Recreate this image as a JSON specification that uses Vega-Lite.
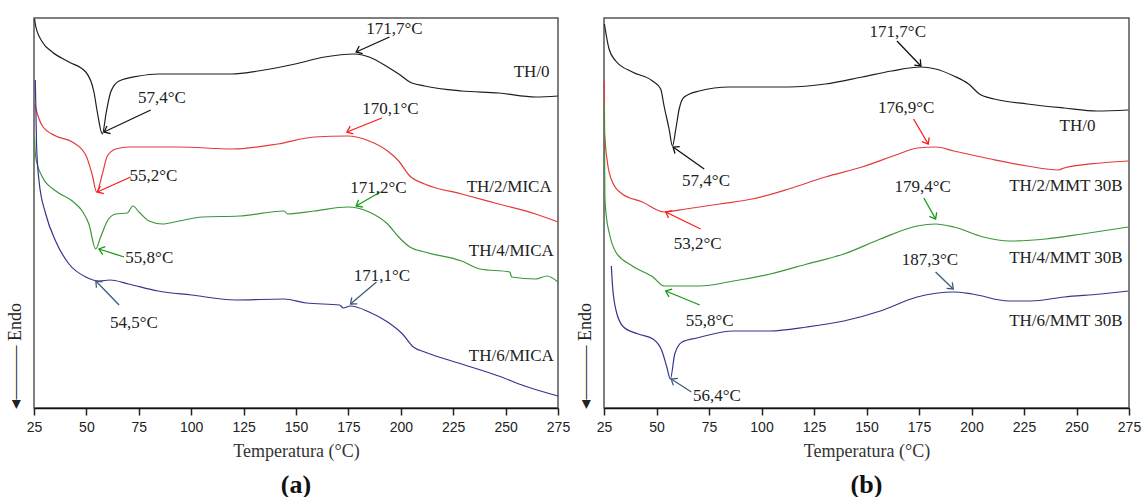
{
  "$schema": "https://vega.github.io/schema/vega-lite/v6.json",
  "background": "white",
  "padding": {"left": 5, "top": 15, "right": 10, "bottom": 5},
  "config": {
    "view": {"stroke": "#555", "strokeWidth": 1.5},
    "text": {"font": "Liberation Serif", "fontSize": 17, "color": "#222"}
  },
  "datasets": {
    "curves": [
      {"p":"a","s":"TH/0","T":25.3,"h":389},{"p":"a","s":"TH/0","T":25.8,"h":382},{"p":"a","s":"TH/0","T":29,"h":366},{"p":"a","s":"TH/0","T":33.7,"h":356},{"p":"a","s":"TH/0","T":41.7,"h":346},{"p":"a","s":"TH/0","T":49.7,"h":336},{"p":"a","s":"TH/0","T":53.6,"h":316},{"p":"a","s":"TH/0","T":55.2,"h":296},{"p":"a","s":"TH/0","T":57.6,"h":274},{"p":"a","s":"TH/0","T":59.5,"h":296},{"p":"a","s":"TH/0","T":61.6,"h":316},{"p":"a","s":"TH/0","T":65.6,"h":327},{"p":"a","s":"TH/0","T":75.1,"h":332},{"p":"a","s":"TH/0","T":84.6,"h":334},{"p":"a","s":"TH/0","T":119.5,"h":334},{"p":"a","s":"TH/0","T":131.9,"h":337},{"p":"a","s":"TH/0","T":149.6,"h":344},{"p":"a","s":"TH/0","T":163.7,"h":351},{"p":"a","s":"TH/0","T":177.8,"h":354},{"p":"a","s":"TH/0","T":184.9,"h":351},{"p":"a","s":"TH/0","T":193.7,"h":341},{"p":"a","s":"TH/0","T":199,"h":334},{"p":"a","s":"TH/0","T":204.3,"h":326},{"p":"a","s":"TH/0","T":211.4,"h":322},{"p":"a","s":"TH/0","T":229,"h":317},{"p":"a","s":"TH/0","T":246.7,"h":315},{"p":"a","s":"TH/0","T":264.4,"h":311},{"p":"a","s":"TH/0","T":275,"h":312},

      {"p":"a","s":"TH/2/MICA","T":25.3,"h":304},{"p":"a","s":"TH/2/MICA","T":25.8,"h":300},{"p":"a","s":"TH/2/MICA","T":29,"h":282},{"p":"a","s":"TH/2/MICA","T":35.4,"h":272},{"p":"a","s":"TH/2/MICA","T":43.3,"h":266},{"p":"a","s":"TH/2/MICA","T":49.7,"h":253},{"p":"a","s":"TH/2/MICA","T":52.8,"h":233},{"p":"a","s":"TH/2/MICA","T":54.9,"h":216},{"p":"a","s":"TH/2/MICA","T":57.6,"h":234},{"p":"a","s":"TH/2/MICA","T":60,"h":252},{"p":"a","s":"TH/2/MICA","T":64,"h":259},{"p":"a","s":"TH/2/MICA","T":70.3,"h":261},{"p":"a","s":"TH/2/MICA","T":94.2,"h":261},{"p":"a","s":"TH/2/MICA","T":119.5,"h":259},{"p":"a","s":"TH/2/MICA","T":141.3,"h":264},{"p":"a","s":"TH/2/MICA","T":158.7,"h":271},{"p":"a","s":"TH/2/MICA","T":174.6,"h":272},{"p":"a","s":"TH/2/MICA","T":184.9,"h":267},{"p":"a","s":"TH/2/MICA","T":193.7,"h":257},{"p":"a","s":"TH/2/MICA","T":199,"h":247},{"p":"a","s":"TH/2/MICA","T":204.3,"h":232},{"p":"a","s":"TH/2/MICA","T":211.4,"h":224},{"p":"a","s":"TH/2/MICA","T":229,"h":214},{"p":"a","s":"TH/2/MICA","T":246.7,"h":204},{"p":"a","s":"TH/2/MICA","T":264.4,"h":194},{"p":"a","s":"TH/2/MICA","T":275,"h":186},

      {"p":"a","s":"TH/4/MICA","T":25.2,"h":271},{"p":"a","s":"TH/4/MICA","T":25.8,"h":251},{"p":"a","s":"TH/4/MICA","T":29,"h":231},{"p":"a","s":"TH/4/MICA","T":35.4,"h":217},{"p":"a","s":"TH/4/MICA","T":43.3,"h":207},{"p":"a","s":"TH/4/MICA","T":48,"h":197},{"p":"a","s":"TH/4/MICA","T":51.2,"h":184},{"p":"a","s":"TH/4/MICA","T":54.4,"h":159},{"p":"a","s":"TH/4/MICA","T":56.8,"h":171},{"p":"a","s":"TH/4/MICA","T":60,"h":187},{"p":"a","s":"TH/4/MICA","T":64,"h":194},{"p":"a","s":"TH/4/MICA","T":69.5,"h":195},{"p":"a","s":"TH/4/MICA","T":72.2,"h":202},{"p":"a","s":"TH/4/MICA","T":75.1,"h":196},{"p":"a","s":"TH/4/MICA","T":79.9,"h":187},{"p":"a","s":"TH/4/MICA","T":86.2,"h":184},{"p":"a","s":"TH/4/MICA","T":94.2,"h":187},{"p":"a","s":"TH/4/MICA","T":105.4,"h":191},{"p":"a","s":"TH/4/MICA","T":123,"h":192},{"p":"a","s":"TH/4/MICA","T":144.3,"h":197},{"p":"a","s":"TH/4/MICA","T":146,"h":194},{"p":"a","s":"TH/4/MICA","T":158.7,"h":197},{"p":"a","s":"TH/4/MICA","T":174.6,"h":201},{"p":"a","s":"TH/4/MICA","T":184.9,"h":196},{"p":"a","s":"TH/4/MICA","T":193.7,"h":184},{"p":"a","s":"TH/4/MICA","T":199,"h":171},{"p":"a","s":"TH/4/MICA","T":204.3,"h":161},{"p":"a","s":"TH/4/MICA","T":211.4,"h":156},{"p":"a","s":"TH/4/MICA","T":229,"h":147},{"p":"a","s":"TH/4/MICA","T":237.8,"h":139},{"p":"a","s":"TH/4/MICA","T":252,"h":136},{"p":"a","s":"TH/4/MICA","T":252.9,"h":131},{"p":"a","s":"TH/4/MICA","T":264.4,"h":129},{"p":"a","s":"TH/4/MICA","T":269.7,"h":132},{"p":"a","s":"TH/4/MICA","T":275,"h":126},

      {"p":"a","s":"TH/6/MICA","T":25.6,"h":328},{"p":"a","s":"TH/6/MICA","T":25.9,"h":300},{"p":"a","s":"TH/6/MICA","T":26.2,"h":264},{"p":"a","s":"TH/6/MICA","T":27.4,"h":227},{"p":"a","s":"TH/6/MICA","T":30.6,"h":194},{"p":"a","s":"TH/6/MICA","T":35.3,"h":167},{"p":"a","s":"TH/6/MICA","T":41.7,"h":144},{"p":"a","s":"TH/6/MICA","T":49.7,"h":131},{"p":"a","s":"TH/6/MICA","T":56,"h":127},{"p":"a","s":"TH/6/MICA","T":61.2,"h":128},{"p":"a","s":"TH/6/MICA","T":70.1,"h":124},{"p":"a","s":"TH/6/MICA","T":84.2,"h":117},{"p":"a","s":"TH/6/MICA","T":100.1,"h":113},{"p":"a","s":"TH/6/MICA","T":121.3,"h":108},{"p":"a","s":"TH/6/MICA","T":144.3,"h":109},{"p":"a","s":"TH/6/MICA","T":154.9,"h":105},{"p":"a","s":"TH/6/MICA","T":170.8,"h":103},{"p":"a","s":"TH/6/MICA","T":172.5,"h":100},{"p":"a","s":"TH/6/MICA","T":176,"h":102},{"p":"a","s":"TH/6/MICA","T":184.9,"h":96},{"p":"a","s":"TH/6/MICA","T":193.7,"h":86},{"p":"a","s":"TH/6/MICA","T":200.8,"h":74},{"p":"a","s":"TH/6/MICA","T":206,"h":61},{"p":"a","s":"TH/6/MICA","T":211.4,"h":56},{"p":"a","s":"TH/6/MICA","T":229,"h":44},{"p":"a","s":"TH/6/MICA","T":246.7,"h":32},{"p":"a","s":"TH/6/MICA","T":259.1,"h":22},{"p":"a","s":"TH/6/MICA","T":275,"h":12},

      {"p":"b","s":"TH/0","T":25.2,"h":384},{"p":"b","s":"TH/0","T":27.4,"h":359},{"p":"b","s":"TH/0","T":30.6,"h":347},{"p":"b","s":"TH/0","T":38.5,"h":336},{"p":"b","s":"TH/0","T":48.1,"h":327},{"p":"b","s":"TH/0","T":52,"h":319},{"p":"b","s":"TH/0","T":53.6,"h":302},{"p":"b","s":"TH/0","T":56,"h":279},{"p":"b","s":"TH/0","T":57.6,"h":262},{"p":"b","s":"TH/0","T":59.2,"h":279},{"p":"b","s":"TH/0","T":60.8,"h":299},{"p":"b","s":"TH/0","T":63.2,"h":311},{"p":"b","s":"TH/0","T":70.3,"h":317},{"p":"b","s":"TH/0","T":84.8,"h":321},{"p":"b","s":"TH/0","T":113,"h":321},{"p":"b","s":"TH/0","T":130.4,"h":324},{"p":"b","s":"TH/0","T":147.9,"h":331},{"p":"b","s":"TH/0","T":161.9,"h":337},{"p":"b","s":"TH/0","T":175.9,"h":341},{"p":"b","s":"TH/0","T":182.9,"h":339},{"p":"b","s":"TH/0","T":191.6,"h":332},{"p":"b","s":"TH/0","T":198.6,"h":324},{"p":"b","s":"TH/0","T":203.8,"h":314},{"p":"b","s":"TH/0","T":210.8,"h":309},{"p":"b","s":"TH/0","T":226.6,"h":304},{"p":"b","s":"TH/0","T":244.1,"h":300},{"p":"b","s":"TH/0","T":259.8,"h":297},{"p":"b","s":"TH/0","T":274.7,"h":298},

      {"p":"b","s":"TH/2/MMT 30B","T":25.1,"h":327},{"p":"b","s":"TH/2/MMT 30B","T":25.3,"h":276},{"p":"b","s":"TH/2/MMT 30B","T":26.6,"h":246},{"p":"b","s":"TH/2/MMT 30B","T":29,"h":226},{"p":"b","s":"TH/2/MMT 30B","T":33.7,"h":214},{"p":"b","s":"TH/2/MMT 30B","T":43.3,"h":206},{"p":"b","s":"TH/2/MMT 30B","T":53.6,"h":196},{"p":"b","s":"TH/2/MMT 30B","T":64,"h":199},{"p":"b","s":"TH/2/MMT 30B","T":80,"h":204},{"p":"b","s":"TH/2/MMT 30B","T":95.5,"h":209},{"p":"b","s":"TH/2/MMT 30B","T":112.9,"h":219},{"p":"b","s":"TH/2/MMT 30B","T":130.4,"h":231},{"p":"b","s":"TH/2/MMT 30B","T":147.9,"h":241},{"p":"b","s":"TH/2/MMT 30B","T":165.4,"h":254},{"p":"b","s":"TH/2/MMT 30B","T":174.1,"h":260},{"p":"b","s":"TH/2/MMT 30B","T":182.9,"h":261},{"p":"b","s":"TH/2/MMT 30B","T":191.6,"h":257},{"p":"b","s":"TH/2/MMT 30B","T":209.1,"h":249},{"p":"b","s":"TH/2/MMT 30B","T":226.6,"h":242},{"p":"b","s":"TH/2/MMT 30B","T":241.4,"h":238},{"p":"b","s":"TH/2/MMT 30B","T":244.1,"h":240},{"p":"b","s":"TH/2/MMT 30B","T":261.5,"h":245},{"p":"b","s":"TH/2/MMT 30B","T":274.7,"h":247},

      {"p":"b","s":"TH/4/MMT 30B","T":25.1,"h":304},{"p":"b","s":"TH/4/MMT 30B","T":25.4,"h":212},{"p":"b","s":"TH/4/MMT 30B","T":26.2,"h":190},{"p":"b","s":"TH/4/MMT 30B","T":27.4,"h":176},{"p":"b","s":"TH/4/MMT 30B","T":30.6,"h":156},{"p":"b","s":"TH/4/MMT 30B","T":38.5,"h":142},{"p":"b","s":"TH/4/MMT 30B","T":48.3,"h":131},{"p":"b","s":"TH/4/MMT 30B","T":53.6,"h":122},{"p":"b","s":"TH/4/MMT 30B","T":70.3,"h":122},{"p":"b","s":"TH/4/MMT 30B","T":86.7,"h":127},{"p":"b","s":"TH/4/MMT 30B","T":104.2,"h":134},{"p":"b","s":"TH/4/MMT 30B","T":121.7,"h":144},{"p":"b","s":"TH/4/MMT 30B","T":139.2,"h":154},{"p":"b","s":"TH/4/MMT 30B","T":156.6,"h":169},{"p":"b","s":"TH/4/MMT 30B","T":174.1,"h":182},{"p":"b","s":"TH/4/MMT 30B","T":182.9,"h":184},{"p":"b","s":"TH/4/MMT 30B","T":191.6,"h":181},{"p":"b","s":"TH/4/MMT 30B","T":205.6,"h":171},{"p":"b","s":"TH/4/MMT 30B","T":217.8,"h":167},{"p":"b","s":"TH/4/MMT 30B","T":235.3,"h":169},{"p":"b","s":"TH/4/MMT 30B","T":252.8,"h":174},{"p":"b","s":"TH/4/MMT 30B","T":274.7,"h":181},

      {"p":"b","s":"TH/6/MMT 30B","T":28.5,"h":142},{"p":"b","s":"TH/6/MMT 30B","T":29,"h":124},{"p":"b","s":"TH/6/MMT 30B","T":30.8,"h":97},{"p":"b","s":"TH/6/MMT 30B","T":34.3,"h":81},{"p":"b","s":"TH/6/MMT 30B","T":41.3,"h":74},{"p":"b","s":"TH/6/MMT 30B","T":48.3,"h":69},{"p":"b","s":"TH/6/MMT 30B","T":52.6,"h":57},{"p":"b","s":"TH/6/MMT 30B","T":54.9,"h":41},{"p":"b","s":"TH/6/MMT 30B","T":56.6,"h":29},{"p":"b","s":"TH/6/MMT 30B","T":58.7,"h":54},{"p":"b","s":"TH/6/MMT 30B","T":62.2,"h":66},{"p":"b","s":"TH/6/MMT 30B","T":69.2,"h":70},{"p":"b","s":"TH/6/MMT 30B","T":86.7,"h":77},{"p":"b","s":"TH/6/MMT 30B","T":104.2,"h":77},{"p":"b","s":"TH/6/MMT 30B","T":121.7,"h":81},{"p":"b","s":"TH/6/MMT 30B","T":139.2,"h":87},{"p":"b","s":"TH/6/MMT 30B","T":156.6,"h":97},{"p":"b","s":"TH/6/MMT 30B","T":174.1,"h":111},{"p":"b","s":"TH/6/MMT 30B","T":191.6,"h":116},{"p":"b","s":"TH/6/MMT 30B","T":200.3,"h":114},{"p":"b","s":"TH/6/MMT 30B","T":217.8,"h":107},{"p":"b","s":"TH/6/MMT 30B","T":228.3,"h":107},{"p":"b","s":"TH/6/MMT 30B","T":244.1,"h":111},{"p":"b","s":"TH/6/MMT 30B","T":261.5,"h":114},{"p":"b","s":"TH/6/MMT 30B","T":274.7,"h":117}
    ],
    "labels": [
      {"p":"a","k":"t","T":197,"h":379,"t":"171,7°C"},
      {"p":"a","k":"t","T":86,"h":310,"t":"57,4°C"},
      {"p":"a","k":"t","T":195,"h":299,"t":"170,1°C"},
      {"p":"a","k":"t","T":82,"h":232,"t":"55,2°C"},
      {"p":"a","k":"t","T":189.3,"h":220,"t":"171,2°C"},
      {"p":"a","k":"t","T":80,"h":150,"t":"55,8°C"},
      {"p":"a","k":"t","T":191,"h":132,"t":"171,1°C"},
      {"p":"a","k":"t","T":72.7,"h":85,"t":"54,5°C"},
      {"p":"a","k":"n","T":271,"h":336,"t":"TH/0"},
      {"p":"a","k":"n","T":272,"h":221,"t":"TH/2/MICA"},
      {"p":"a","k":"n","T":273,"h":157,"t":"TH/4/MICA"},
      {"p":"a","k":"n","T":273,"h":52,"t":"TH/6/MICA"},
      {"p":"b","k":"t","T":164.9,"h":376,"t":"171,7°C"},
      {"p":"b","k":"t","T":73.6,"h":227,"t":"57,4°C"},
      {"p":"b","k":"t","T":168.9,"h":300,"t":"176,9°C"},
      {"p":"b","k":"t","T":69.6,"h":164,"t":"53,2°C"},
      {"p":"b","k":"t","T":176.7,"h":221,"t":"179,4°C"},
      {"p":"b","k":"t","T":75.3,"h":87,"t":"55,8°C"},
      {"p":"b","k":"t","T":180.2,"h":148,"t":"187,3°C"},
      {"p":"b","k":"t","T":78.8,"h":12,"t":"56,4°C"},
      {"p":"b","k":"n","T":259,"h":282,"t":"TH/0"},
      {"p":"b","k":"n","T":272,"h":222,"t":"TH/2/MMT 30B"},
      {"p":"b","k":"n","T":272,"h":150,"t":"TH/4/MMT 30B"},
      {"p":"b","k":"n","T":272,"h":87,"t":"TH/6/MMT 30B"}
    ],
    "arrows": [
      {"p":"a","c":"k","x0":194.6,"h0":371,"x1":178.7,"h1":356},
      {"p":"a","c":"k","x0":80.7,"h0":298,"x1":58.4,"h1":276},
      {"p":"a","c":"r","x0":191,"h0":290,"x1":174.3,"h1":276},
      {"p":"a","c":"r","x0":71.1,"h0":231,"x1":55.2,"h1":216},
      {"p":"a","c":"g","x0":190.2,"h0":216,"x1":178.7,"h1":202},
      {"p":"a","c":"g","x0":68,"h0":151,"x1":56,"h1":159},
      {"p":"a","c":"b","x0":188.4,"h0":126,"x1":176,"h1":104},
      {"p":"a","c":"b","x0":65.6,"h0":103,"x1":54.5,"h1":127},
      {"p":"b","c":"k","x0":164.5,"h0":367,"x1":175.9,"h1":342},
      {"p":"b","c":"k","x0":72.7,"h0":239,"x1":57.9,"h1":261},
      {"p":"b","c":"r","x0":172.4,"h0":289,"x1":179.4,"h1":264},
      {"p":"b","c":"r","x0":71,"h0":179,"x1":54.4,"h1":196},
      {"p":"b","c":"g","x0":177.3,"h0":210,"x1":182.9,"h1":189},
      {"p":"b","c":"g","x0":70.6,"h0":103,"x1":54.4,"h1":117},
      {"p":"b","c":"b","x0":182.9,"h0":136,"x1":191.3,"h1":119},
      {"p":"b","c":"b","x0":66.6,"h0":16,"x1":57,"h1":29}
    ]
  },
  "hconcat": [
    {
      "width": 524,
      "height": 390,
      "title": {"text": "(a)", "orient": "bottom", "font": "Liberation Serif", "fontSize": 26, "fontWeight": "bold", "color": "#111", "offset": 12},
      "resolve": {"scale": {"color": "independent"}},
      "layer": [
        {
          "data": {"name": "curves"},
          "transform": [{"filter": "datum.p == 'a'"}],
          "mark": {"type": "line", "strokeWidth": 1.2, "interpolate": "monotone"},
          "encoding": {
            "x": {"field": "T", "type": "quantitative", "scale": {"domain": [25, 275], "nice": false, "zero": false},
              "axis": {"values": [25,37.5,50,62.5,75,87.5,100,112.5,125,137.5,150,162.5,175,187.5,200,212.5,225,237.5,250,262.5,275],
                "labelExpr": "datum.value % 25 === 0 ? datum.label : ''",
                "tickSize": {"condition": {"test": "datum.value % 25 === 0", "value": 7}, "value": 5},
                "grid": false, "labelFlush": false, "labelOverlap": false, "labelFont": "Liberation Sans", "labelFontSize": 14, "labelColor": "#222", "labelPadding": 5,
                "tickColor": "#222", "tickWidth": 1.5, "domainColor": "#111", "domainWidth": 1.5,
                "title": "Temperatura (°C)", "titleFont": "Liberation Serif", "titleFontSize": 18, "titleFontWeight": "normal", "titleColor": "#333", "titlePadding": 8}},
            "y": {"field": "h", "type": "quantitative", "scale": {"domain": [0, 390], "nice": false, "zero": false},
              "axis": {"title": "◂――― Endo", "titleAnchor": "start", "domain": false, "ticks": false, "labels": false, "grid": false,
                "titleFont": "Liberation Serif", "titleFontSize": 18, "titleFontWeight": "normal", "titleColor": "#222", "titlePadding": 10}},
            "color": {"field": "s", "type": "nominal", "legend": null,
              "scale": {"domain": ["TH/0","TH/2/MICA","TH/4/MICA","TH/6/MICA"], "range": ["#1e1e1e","#e33b3b","#3b963b","#35358f"]}}
          }
        },
        {
          "data": {"name": "arrows"},
          "transform": [{"filter": "datum.p == 'a'"}],
          "mark": {"type": "rule", "strokeWidth": 1.3},
          "encoding": {
            "x": {"field": "x0", "type": "quantitative"},
            "y": {"field": "h0", "type": "quantitative"},
            "x2": {"field": "x1"},
            "y2": {"field": "h1"},
            "color": {"field": "c", "type": "nominal", "legend": null,
              "scale": {"domain": ["k","r","g","b"], "range": ["#111111","#ff1a1a","#139a13","#3e5b7c"]}}
          }
        },
        {
          "data": {"name": "arrows"},
          "transform": [{"filter": "datum.p == 'a'"},
            {"calculate": "atan2(-(datum.h1 - datum.h0), (datum.x1 - datum.x0) * 2.096) * 180 / PI", "as": "ang"}],
          "mark": {"type": "point", "shape": "M-1,-0.8L0,0L-1,0.8", "filled": false, "strokeWidth": 1.3, "size": 110, "opacity": 1},
          "encoding": {
            "x": {"field": "x1", "type": "quantitative"},
            "y": {"field": "h1", "type": "quantitative"},
            "angle": {"field": "ang", "type": "quantitative", "scale": null},
            "color": {"field": "c", "type": "nominal", "legend": null,
              "scale": {"domain": ["k","r","g","b"], "range": ["#111111","#ff1a1a","#139a13","#3e5b7c"]}}
          }
        },
        {
          "data": {"name": "labels"},
          "transform": [{"filter": "datum.p == 'a' && datum.k == 't'"}],
          "mark": {"type": "text", "align": "center", "baseline": "middle"},
          "encoding": {
            "x": {"field": "T", "type": "quantitative"},
            "y": {"field": "h", "type": "quantitative"},
            "text": {"field": "t"}
          }
        },
        {
          "data": {"name": "labels"},
          "transform": [{"filter": "datum.p == 'a' && datum.k == 'n'"}],
          "mark": {"type": "text", "align": "right", "baseline": "middle"},
          "encoding": {
            "x": {"field": "T", "type": "quantitative"},
            "y": {"field": "h", "type": "quantitative"},
            "text": {"field": "t"}
          }
        }
      ]
    },
    {
      "width": 525,
      "height": 390,
      "title": {"text": "(b)", "orient": "bottom", "font": "Liberation Serif", "fontSize": 26, "fontWeight": "bold", "color": "#111", "offset": 12},
      "resolve": {"scale": {"color": "independent"}},
      "layer": [
        {
          "data": {"name": "curves"},
          "transform": [{"filter": "datum.p == 'b'"}],
          "mark": {"type": "line", "strokeWidth": 1.2, "interpolate": "monotone"},
          "encoding": {
            "x": {"field": "T", "type": "quantitative", "scale": {"domain": [25, 275], "nice": false, "zero": false},
              "axis": {"values": [25,37.5,50,62.5,75,87.5,100,112.5,125,137.5,150,162.5,175,187.5,200,212.5,225,237.5,250,262.5,275],
                "labelExpr": "datum.value % 25 === 0 ? datum.label : ''",
                "tickSize": {"condition": {"test": "datum.value % 25 === 0", "value": 7}, "value": 5},
                "grid": false, "labelFlush": false, "labelOverlap": false, "labelFont": "Liberation Sans", "labelFontSize": 14, "labelColor": "#222", "labelPadding": 5,
                "tickColor": "#222", "tickWidth": 1.5, "domainColor": "#111", "domainWidth": 1.5,
                "title": "Temperatura (°C)", "titleFont": "Liberation Serif", "titleFontSize": 18, "titleFontWeight": "normal", "titleColor": "#333", "titlePadding": 8}},
            "y": {"field": "h", "type": "quantitative", "scale": {"domain": [0, 390], "nice": false, "zero": false},
              "axis": {"title": "◂――― Endo", "titleAnchor": "start", "domain": false, "ticks": false, "labels": false, "grid": false,
                "titleFont": "Liberation Serif", "titleFontSize": 18, "titleFontWeight": "normal", "titleColor": "#222", "titlePadding": 10}},
            "color": {"field": "s", "type": "nominal", "legend": null,
              "scale": {"domain": ["TH/0","TH/2/MMT 30B","TH/4/MMT 30B","TH/6/MMT 30B"], "range": ["#1e1e1e","#e33b3b","#3b963b","#35358f"]}}
          }
        },
        {
          "data": {"name": "arrows"},
          "transform": [{"filter": "datum.p == 'b'"}],
          "mark": {"type": "rule", "strokeWidth": 1.3},
          "encoding": {
            "x": {"field": "x0", "type": "quantitative"},
            "y": {"field": "h0", "type": "quantitative"},
            "x2": {"field": "x1"},
            "y2": {"field": "h1"},
            "color": {"field": "c", "type": "nominal", "legend": null,
              "scale": {"domain": ["k","r","g","b"], "range": ["#111111","#ff1a1a","#139a13","#3e5b7c"]}}
          }
        },
        {
          "data": {"name": "arrows"},
          "transform": [{"filter": "datum.p == 'b'"},
            {"calculate": "atan2(-(datum.h1 - datum.h0), (datum.x1 - datum.x0) * 2.1) * 180 / PI", "as": "ang"}],
          "mark": {"type": "point", "shape": "M-1,-0.8L0,0L-1,0.8", "filled": false, "strokeWidth": 1.3, "size": 110, "opacity": 1},
          "encoding": {
            "x": {"field": "x1", "type": "quantitative"},
            "y": {"field": "h1", "type": "quantitative"},
            "angle": {"field": "ang", "type": "quantitative", "scale": null},
            "color": {"field": "c", "type": "nominal", "legend": null,
              "scale": {"domain": ["k","r","g","b"], "range": ["#111111","#ff1a1a","#139a13","#3e5b7c"]}}
          }
        },
        {
          "data": {"name": "labels"},
          "transform": [{"filter": "datum.p == 'b' && datum.k == 't'"}],
          "mark": {"type": "text", "align": "center", "baseline": "middle"},
          "encoding": {
            "x": {"field": "T", "type": "quantitative"},
            "y": {"field": "h", "type": "quantitative"},
            "text": {"field": "t"}
          }
        },
        {
          "data": {"name": "labels"},
          "transform": [{"filter": "datum.p == 'b' && datum.k == 'n'"}],
          "mark": {"type": "text", "align": "right", "baseline": "middle"},
          "encoding": {
            "x": {"field": "T", "type": "quantitative"},
            "y": {"field": "h", "type": "quantitative"},
            "text": {"field": "t"}
          }
        }
      ]
    }
  ],
  "spacing": 46,
  "bounds": "flush"
}
